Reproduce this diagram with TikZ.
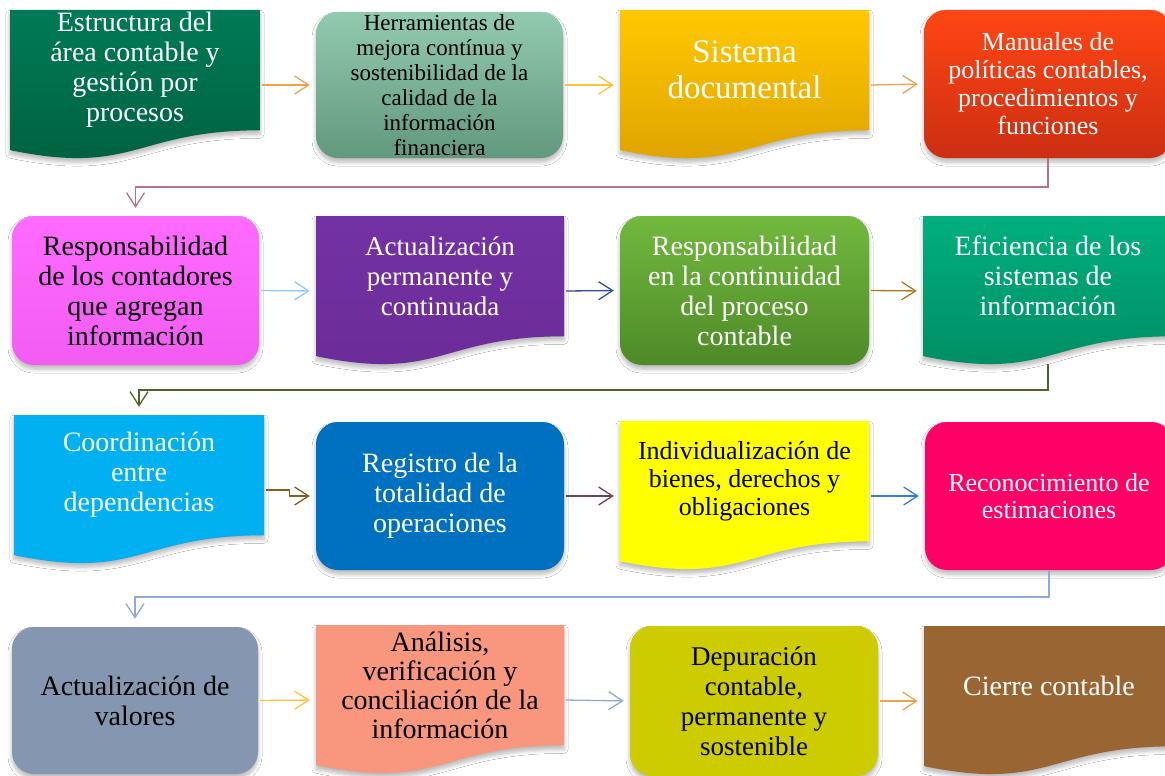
\documentclass[tikz,border=0pt]{standalone}
\usepackage{fontspec}
\setmainfont{Liberation Serif}
\usetikzlibrary{arrows.meta,shadows.blur,calc}

\definecolor{cA1}{HTML}{007A55}\definecolor{cA2}{HTML}{006040}
\definecolor{cB1}{HTML}{92CAAF}\definecolor{cB2}{HTML}{62987E}
\definecolor{cC1}{HTML}{FFC800}\definecolor{cC2}{HTML}{DCA000}
\definecolor{cD1}{HTML}{FF4614}\definecolor{cD2}{HTML}{CC2E12}
\definecolor{cE1}{HTML}{FF6AFF}\definecolor{cE2}{HTML}{F25CF2}
\definecolor{cF1}{HTML}{7332A3}\definecolor{cF2}{HTML}{6A2C98}
\definecolor{cG1}{HTML}{72B93E}\definecolor{cG2}{HTML}{4E8A28}
\definecolor{cH1}{HTML}{00B07D}\definecolor{cH2}{HTML}{008A62}
\definecolor{cI}{HTML}{00B0F0}
\definecolor{cJ}{HTML}{0070C0}
\definecolor{cK}{HTML}{FFFF00}
\definecolor{cL}{HTML}{FF0066}
\definecolor{cM}{HTML}{8496B0}
\definecolor{cN}{HTML}{F8977E}
\definecolor{cO}{HTML}{CCCC00}
\definecolor{cP}{HTML}{996633}
\definecolor{aOr}{HTML}{F5A04A}
\definecolor{aYe}{HTML}{FFC23A}
\definecolor{aMa}{HTML}{B8708A}
\definecolor{aLb}{HTML}{8EC8FF}
\definecolor{aDb}{HTML}{2E4F9E}
\definecolor{aGo}{HTML}{A67C1E}
\definecolor{aOl}{HTML}{4F6228}
\definecolor{aBr}{HTML}{8A5A1F}
\definecolor{aMr}{HTML}{7B3D4E}
\definecolor{aBl}{HTML}{2F7FE0}
\definecolor{aPb}{HTML}{8EA9DB}

\tikzset{
  shad/.style={blur shadow={shadow blur steps=6, shadow xshift=0pt, shadow yshift=-4pt, shadow opacity=28, shadow blur radius=4pt}},
  rnd/.style={rounded corners=22pt, inner sep=0pt, align=center, shad},
  docn/.style={inner sep=0pt},
  conn/.style={line width=1.3pt, -{Straight Barb[length=14pt,width=18pt,line width=1.3pt]}, shorten >=6pt, shorten <=2pt},
  fs28/.style={font=\fontsize{28}{30}\selectfont},
}

\newcommand{\DocBox}[8]{%
  \path[shad,#6] (#2,#3) -- ++(#4,0) -- ++(0,0.802*#5) .. controls +(-0.5*#4,0) and +(0.5*#4,0.173*#5) .. ++(-#4,0.132*#5) -- cycle;
  \node[docn,#7] (#1) at (#2+0.5*#4,#3+0.5*#5) {\parbox[c][#5pt][c]{#4pt}{\centering #8\par\vspace*{\dimexpr#5pt/5\relax}}};
}
\newcommand{\RndBox}[7]{%
  \node[rnd,minimum width=#4pt,minimum height=#5pt,#6] (#1) at (#2+0.5*#4,#3+0.5*#5) {#7};
}

\begin{document}
\begin{tikzpicture}[x=1pt,y=-1pt]
\useasboundingbox (0,0) rectangle (1165,776);
\clip (0,0) rectangle (1165,776);
\fill[white] (0,0) rectangle (1165,776);

% Row 1
\DocBox{b1}{10}{10}{250}{150}{top color=cA1,bottom color=cA2}{text=white,fs28}{Estructura del\\ área contable y\\ gestión por\\ procesos}
\RndBox{b2}{316}{12}{247}{146}{top color=cB1,bottom color=cB2,text=black,font=\fontsize{23}{25}\selectfont}{Herramientas de\\ mejora contínua y\\ sostenibilidad de la\\ calidad de la\\ información\\ financiera}
\DocBox{b3}{620}{10}{249}{150}{top color=cC1,bottom color=cC2}{text=white,font=\fontsize{33}{36}\selectfont}{Sistema\\ documental}
\RndBox{b4}{924}{10}{248}{148}{top color=cD1,bottom color=cD2,text=white,font=\fontsize{26}{28}\selectfont}{Manuales de\\ políticas contables,\\ procedimientos y\\ funciones}

% Row 2
\RndBox{b5}{12}{216}{247}{149}{top color=cE1,bottom color=cE2,text=black,fs28}{Responsabilidad\\ de los contadores\\ que agregan\\ información}
\DocBox{b6}{316}{216}{248}{150}{top color=cF1,bottom color=cF2}{text=white,font=\fontsize{27}{30}\selectfont}{Actualización\\ permanente y\\ continuada}
\RndBox{b7}{620}{216}{249}{149}{top color=cG1,bottom color=cG2,text=white,fs28}{Responsabilidad\\ en la continuidad\\ del proceso\\ contable}
\DocBox{b8}{923}{216}{250}{150}{top color=cH1,bottom color=cH2}{text=white,fs28}{Eficiencia de los\\ sistemas de\\ información}

% Row 3
\DocBox{b9}{14}{415}{250}{150}{fill=cI}{text=white,fs28}{Coordinación\\ entre\\ dependencias}
\RndBox{b10}{316}{422}{248}{148}{fill=cJ,text=white,fs28}{Registro de la\\ totalidad de\\ operaciones}
\DocBox{b11}{620}{421}{249}{150}{fill=cK}{text=black,font=\fontsize{26}{28}\selectfont}{Individualización de\\ bienes, derechos y\\ obligaciones}
\RndBox{b12}{925}{422}{248}{148}{fill=cL,text=white,font=\fontsize{26}{27}\selectfont}{Reconocimiento de\\ estimaciones}

% Row 4
\RndBox{b13}{12}{627}{246}{147}{fill=cM,text=black,fs28}{Actualización de\\ valores}
\DocBox{b14}{316}{625}{248}{150}{fill=cN}{text=black,font=\fontsize{28}{29}\selectfont}{Análisis,\\ verificación y\\ conciliación de la\\ información}
\RndBox{b15}{630}{626}{248}{150}{fill=cO,text=black,font=\fontsize{27}{30}\selectfont}{Depuración\\ contable,\\ permanente y\\ sostenible}
\DocBox{b16}{924}{626}{250}{150}{fill=cP}{text=white,fs28}{Cierre contable}

% connectors within rows
\draw[conn,aOr] (b1.east) -- (b2.west);
\draw[conn,aYe] (b2.east) -- (b3.west);
\draw[conn,aOr] (b3.east) -- (b4.west);
\draw[conn,aLb] (b5.east) -- (b6.west);
\draw[conn,aDb] (b6.east) -- (b7.west);
\draw[conn,aGo] (b7.east) -- (b8.west);
\draw[conn,aBr] (b9.east) -- ++(25,0) |- (b10.west);
\draw[conn,aMr] (b10.east) -- (b11.west);
\draw[conn,aBl] (b11.east) -- (b12.west);
\draw[conn,aYe] (b13.east) -- (b14.west);
\draw[conn,aPb] (b14.east) -- (b15.west);
\draw[conn,aOr] (b15.east) -- (b16.west);

% connectors between rows
\coordinate (r1) at (0,187);
\coordinate (r2) at (0,390);
\coordinate (r3) at (0,597);
\draw[conn,aMa,shorten >=8pt,shorten <=0pt] (b4.south) -- (b4.south |- r1) -| (b5.north);
\draw[conn,aOl,shorten >=8pt,shorten <=-2pt] (b8.south) -- (b8.south |- r2) -| (b9.north);
\draw[conn,aPb,shorten >=8pt,shorten <=0pt] (b12.south) -- (b12.south |- r3) -| (b13.north);
\end{tikzpicture}
\end{document}
